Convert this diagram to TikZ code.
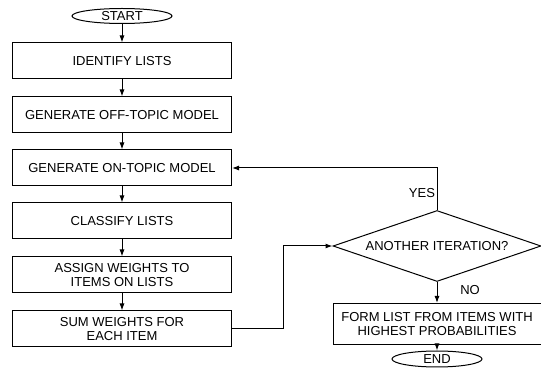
\documentclass[tikz,border=0pt]{standalone}
\usepackage{fontspec}
\setmainfont{Liberation Sans}
\usetikzlibrary{shapes.geometric, arrows.meta}

\begin{document}
\begin{tikzpicture}[x=1pt, y=-1pt]
\tikzset{boite/.style={draw, rectangle, line width=1pt, minimum width=219pt, minimum height=36pt, align=center, inner sep=1pt, font=\fontsize{13}{14}\selectfont}}
\tikzset{bout/.style={draw, ellipse, line width=1pt, inner sep=0pt, font=\fontsize{13}{14}\selectfont}}
\tikzset{fleche/.style={-{Latex[length=7pt, width=5pt]}, line width=1pt}}
\useasboundingbox (0,0) rectangle (541,379);
\node[bout, minimum width=100pt, minimum height=15pt] (S) at (122,16) {START};
\node[boite] (E1) at (122,61) {IDENTIFY LISTS};
\node[boite] (E2) at (122,115) {GENERATE OFF-TOPIC MODEL};
\node[boite] (E3) at (122,168) {GENERATE ON-TOPIC MODEL};
\node[boite] (E4) at (122,221) {CLASSIFY LISTS};
\node[boite] (E5) at (122,275) {ASSIGN WEIGHTS TO\\ITEMS ON LISTS};
\node[boite] (E6) at (122,329) {SUM WEIGHTS FOR\\EACH ITEM};
\node[draw, diamond, aspect=2.9, line width=1pt, inner sep=0pt, minimum width=208pt, minimum height=71pt, font=\fontsize{13}{14}\selectfont] (D) at (437,246) {ANOTHER ITERATION?};
\node[boite, minimum width=208pt, minimum height=41pt] (F) at (437,324) {FORM LIST FROM ITEMS WITH\\HIGHEST PROBABILITIES};
\node[bout, minimum width=90pt, minimum height=16pt] (END) at (437,359) {END};
\node[font=\fontsize{13}{14}\selectfont] (yes) at (422,193) {YES};
\node[font=\fontsize{13}{14}\selectfont] (no) at (470,290) {NO};
\coordinate (c1) at (283,329);
\draw[fleche] (S) -- (E1);
\draw[fleche] (E1) -- (E2);
\draw[fleche] (E2) -- (E3);
\draw[fleche] (E3) -- (E4);
\draw[fleche] (E4) -- (E5);
\draw[fleche] (E5) -- (E6);
\draw[fleche] (E6.east) -- (c1) |- (D.west);
\draw[fleche] (D.north) |- (E3.east);
\draw[fleche] (D.south) -- (F.north);
\draw[fleche] (F.south) -- (END.north);
\end{tikzpicture}
\end{document}
